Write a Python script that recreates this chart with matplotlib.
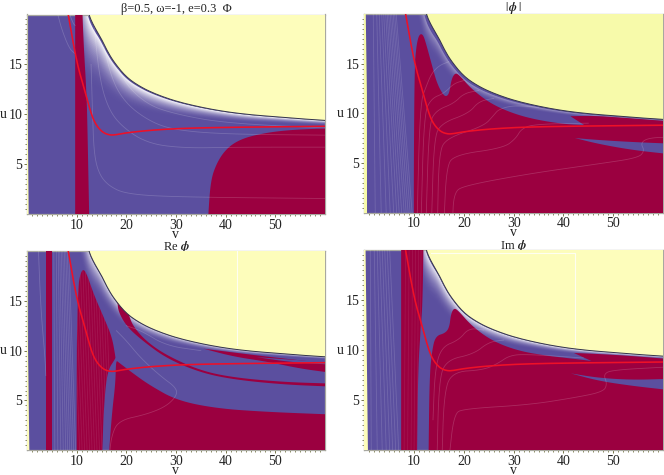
import matplotlib
matplotlib.use('Agg')
import matplotlib.pyplot as plt
import numpy as np

PURPLE = '#5b4f9f'
CRIMSON = '#9b0040'
YELLOW = '#fdfdbb'
YELLOW2 = '#f7faaa'

titles = ['β=0.5, ω=-1, e=0.3  Φ', r'$|\,\boldsymbol{\phi}\,|$', r'Re $\boldsymbol{\phi}$', r'Im $\boldsymbol{\phi}$']

# edge of the yellow area and the red curve, same in all panels
edge_v = [11.3, 12.4, 13.5, 14.75, 16, 17.4, 20, 23, 26, 30, 35, 40, 45, 50, 55, 61]
edge_u = [22.5, 20, 18.8, 17.8, 16.5, 15.3, 13.7, 12.7, 12.0, 11.3, 10.7, 10.25, 9.95, 9.75, 9.55, 9.35]
band_width = [7, 6.5, 6, 5.2, 4.5, 3.8, 3.0, 2.4, 2.0, 1.6, 1.25, 1.0, 0.85, 0.7, 0.6, 0.5]
red_v = [8.3, 9, 9.7, 10.5, 11.4, 12.7, 13.5, 14.4, 15.5, 16.8, 18, 20.1, 24.8, 31.5, 41.6, 61]
red_u = [20, 18, 16.1, 14.3, 12.8, 10.4, 9.3, 8.6, 8.1, 7.9, 7.95, 8.15, 8.4, 8.6, 8.7, 8.8]

# panel 1
p1_strip_v = [9.7, 9.7, 11.1, 11.4, 12.0, 12.2, 12.55, 9.7]
p1_strip_u = [-1, 21, 21, 17, 12, 8, -1, -1]
p1_corner_v = [36.5, 36.5, 37, 38.2, 39.9, 42.2, 45.6, 51.6, 61, 61, 36.5]
p1_corner_u = [-1, 0, 3.4, 5.1, 6.4, 7.3, 7.9, 8.4, 8.6, -1, -1]
p1_line_a_v = [12.9, 13.2, 13.5, 14.5, 16.5, 20, 30, 61]
p1_line_a_u = [15, 10, 6, 4, 2.8, 2.0, 1.7, 1.55]
p1_line_b_v = [13.5, 14.5, 16, 18.5, 24, 31.5, 42, 61]
p1_line_b_u = [19, 14, 11, 9, 7.1, 6.6, 6.7, 6.7]
p1_line_c_v = [15, 17, 20, 25, 30, 40, 61]
p1_line_c_u = [18, 13.5, 11, 9.2, 8.4, 8.0, 7.9]
p1_line_d_v = [16, 19, 24, 30, 40, 61]
p1_line_d_u = [18, 13.5, 11, 10, 9.1, 8.6]
p1_line_e_v = [6.2, 7, 8.5, 9.6]
p1_line_e_u = [20, 18.5, 16.6, 16.1]
p1_line_f_v = [8.6, 9.3, 9.7]
p1_line_f_u = [20, 19.1, 18.9]

# panel 2
p2_main_v = [9.95, 9.95, 10.1, 10.4, 10.8, 11.25, 11.8, 12.3, 13.5, 14.6, 15.9, 16.6, 17.1, 17.5, 18.2, 19, 21.6, 25.6,
             30.3, 35, 40.4, 44.2, 44.2, 41.4, 41.4, 46, 52, 61, 61, 9.95]
p2_main_u = [-1, 5, 14.5, 16.5, 17.6, 18, 17.9, 17.2, 15, 13, 11.8, 11.7, 12.1, 13.4, 14.05, 13.9, 12.4, 10.9,
             9.9, 9.3, 8.9, 8.8, 8.8, 9.7, 9.7, 9.75, 9.55, 9.2, -1, -1]
p2_isle_v = [42.3, 42.3, 47.1, 53.8, 61, 61, 53.8, 47.1, 42.3, 42.3]
p2_isle_u = [7.5, 7.5, 7.3, 7.1, 6.95, 5.9, 6.3, 6.9, 7.5, 7.5]
p2_line_a_v = [17.7, 18, 20, 33, 47, 55, 56.3, 55.5, 57, 61]
p2_line_a_u = [-1, 2, 2.7, 3.9, 4.9, 5.5, 6.2, 7, 7.5, 7.6]
p2_line_b_v = [16, 16.5, 18, 28, 30.5, 31.5, 34, 45]
p2_line_b_u = [-1, 4.5, 5.8, 6.5, 7.5, 8.4, 8.9, 9.0]
p2_line_c_v = [14.7, 15, 16.5, 24, 26, 27, 30, 35]
p2_line_c_u = [-1, 6, 7.5, 8.7, 9.8, 10.4, 10.8, 10.6]
p2_line_d_v = [13.5, 14, 15.5, 21, 23, 26]
p2_line_d_u = [-1, 7.5, 9, 10, 11.2, 11.5]
p2_line_e_v = [12.4, 13, 14.5, 18, 20, 23]
p2_line_e_u = [-1, 9, 10.3, 11, 12, 12.3]
p2_line_f_v = [11.4, 12, 13.5, 16, 18, 20]
p2_line_f_u = [-1, 10, 11.5, 12, 13, 13.3]
p2_line_g_v = [10.6, 11.2, 12.5, 13.5, 15, 17]
p2_line_g_u = [-1, 11, 12.8, 14, 14.8, 15.2]

# panel 3
p3_strip_v = [3.8, 3.8, 5, 5, 3.8]
p3_strip_u = [-1, 21, 21, -1, -1]
p3_lobe_v = [10, 10, 10.2, 10.4, 11.1, 11.9, 13.4, 15.4, 17.1, 17.8, 17.8, 16.2, 15.5, 15.1, 15.1, 10]
p3_lobe_u = [-1, 10, 14.7, 17, 18.2, 17.9, 15.7, 13.4, 11.4, 9.4, 9.2, 8, 4.7, -1, -1, -1]
p3_low_v = [16.4, 17.1, 17.8, 17.9, 18.1, 18.1, 21.4, 24.8, 30.2, 38.2, 48.3, 61, 61, 16.4]
p3_low_u = [-1, 3.7, 6.7, 8.7, 8.96, 8.96, 7.7, 6.5, 5, 4.2, 3.85, 3.6, -1, -1]
p3_sliver_v = [18.2, 18.2, 20.1, 20.4, 21.4, 24.1, 28.2, 34.9, 41.6, 51.6, 61, 61, 51.6, 41.6, 34.9, 28.2, 23.5, 20.1, 18.4, 18.2]
p3_sliver_u = [14.9, 14.9, 14.7, 13.7, 12.4, 10.9, 9.5, 8, 7.3, 6.85, 6.7, 6.4, 6.6, 7.1, 7.8, 9.2, 10.9, 12.4, 13.9, 14.9]
p3_top_v = [35.5, 35.5, 40.2, 48.3, 61, 61, 55, 48.3, 41.6, 35.5, 35.5]
p3_top_u = [10.2, 10.2, 9.9, 9.4, 8.7, 7.8, 8.2, 8.9, 9.4, 10.2, 10.2]
p3_gap_v = [46.2, 46.2, 53, 61, 61, 53, 46.2, 46.2]
p3_gap_u = [9.35, 9.35, 9.1, 8.85, 8.6, 8.85, 9.35, 9.35]
p3_line_a_v = [16.5, 17, 18.5, 24, 28, 30.2, 30, 27, 23, 20, 18]
p3_line_a_u = [-1, 1.5, 3, 3.6, 4.4, 5.5, 6.3, 7.4, 9.2, 11, 12]
p3_line_b_v = [2.3, 2.8, 3.6, 3.8]
p3_line_b_u = [20, 14, 9.5, 7.5]
p3_line_c_v = [20, 23, 28, 35]
p3_line_c_u = [12.5, 12, 10.5, 10]
p3_white_v = [42.2, 42.2]
p3_white_u = [10.6, 20]

# panel 4
p4_strip_v = [7.4, 7.4, 11.9, 11.7, 11.3, 10.8, 10.6, 10.6, 7.4]
p4_strip_u = [-1, 21, 21, 14.6, 12, 7.9, 0, -1, -1]
p4_main_v = [12.9, 13.1, 13.6, 14.3, 16.3, 17.1, 17.4, 18, 18.8, 21.6, 25.7, 31, 37, 42.4, 45.6, 45.6, 42.1, 42.1, 47.1,
             53.8, 61, 61, 12.9]
p4_main_u = [-1, 7.3, 9.9, 11.4, 11.7, 12.3, 13.6, 14.2, 14, 12.4, 10.9, 9.9, 9.4, 9.1, 8.9, 8.9, 9.7, 9.7, 9.6,
             9.4, 9.1, -1, -1]
p4_isle_v = [41.5, 41.5, 47.1, 53.8, 61, 61, 53.8, 47.1, 41.5, 41.5]
p4_isle_u = [7.65, 7.65, 7.2, 7.0, 7.1, 6.0, 6.4, 6.9, 7.65, 7.65]
p4_line_a_v = [17, 18, 20, 33, 42, 48, 48.8, 48, 50, 61]
p4_line_a_u = [-1, 3.6, 4.1, 4.5, 5.2, 5.8, 6.6, 7.6, 8, 8.3]
p4_line_b_v = [15.6, 16, 17.5, 24, 27, 29, 32, 44]
p4_line_b_u = [-1, 5.5, 7.8, 8, 8.7, 9.4, 9.6, 9.2]
p4_line_c_v = [14.6, 15, 16.5, 22, 25, 28]
p4_line_c_u = [-1, 7, 9, 9.6, 10.8, 11]
p4_line_d_v = [13.8, 14.2, 15.5, 19, 21, 24]
p4_line_d_u = [3, 8, 10.3, 11, 12.2, 12]
p4_white_v = [13.4, 42.3, 42.3]
p4_white_u = [19.7, 19.7, 10.6]

# left side contour lines, v at bottom and top of the panel
p2_left_bottom = [2.2, 3.4, 4.4, 5.2, 5.9, 6.5, 7.0, 7.5, 8.0, 8.4, 8.8, 9.2, 9.6]
p2_left_top = [1.8, 2.5, 3.0, 3.5, 3.9, 4.3, 4.6, 4.9, 5.2, 5.5, 5.8, 6.1, 6.4]
p3_right_bottom = [5.6, 6.2, 6.8, 7.3, 7.8, 8.2, 8.6, 9.0, 9.4, 9.8]
p3_right_top = [5.4, 5.9, 6.3, 6.6, 6.9, 7.2, 7.5, 7.8, 8.1, 8.4]
p4_left_bottom = [1.4, 2.6, 3.6, 4.4, 5.1, 5.7, 6.3, 6.9]
p4_left_top = [1.2, 2.0, 2.6, 3.1, 3.6, 4.1, 4.6, 5.1]
lobe_lines_3 = [10.6, 11.1, 11.6, 12.1, 12.6, 13.1, 13.6, 14.1, 14.6, 15.1, 15.6, 16.1, 16.6, 17.1]
strip_lines_4 = [8.0, 8.7, 9.4, 10.0, 10.6, 11.1, 11.6]


def smooth(xs, ys, n=3):
    pts = np.column_stack([xs, ys]).astype(float)
    for _ in range(n):
        q = 0.75 * pts[:-1] + 0.25 * pts[1:]
        r = 0.25 * pts[:-1] + 0.75 * pts[1:]
        mid = np.empty((2 * len(q), 2))
        mid[0::2] = q
        mid[1::2] = r
        pts = np.vstack([pts[:1], mid, pts[-1:]])
    return pts[:, 0], pts[:, 1]


def region(ax, xs, ys, color, zorder=3):
    # points outside the frame stay sharp so the cut at the frame is clean
    px, py = [], []
    for a, b in zip(xs, ys):
        px.append(a)
        py.append(b)
        if a > 60 or b < 0 or b > 20:
            px.append(a)
            py.append(b)
    x, y = smooth(px, py)
    return ax.fill(x, y, color=color, lw=0, zorder=zorder)[0]


def contour(ax, xs, ys, alpha=0.17, zorder=4):
    x, y = smooth(xs, ys)
    return ax.plot(x, y, color='white', lw=0.6, alpha=alpha, zorder=zorder)[0]


def band(ax, width_scale, white=1.0, start=0.06):
    ex, ey = smooth(edge_v, edge_u)
    wx, wy = smooth(edge_v, band_width)
    base = np.array(matplotlib.colors.to_rgb(PURPLE))
    ts = np.linspace(1, 0, 30)
    for t in ts:
        f = (1 - t) ** 2.4 * white
        col = base + (np.ones(3) - base) * f
        s = start + t * width_scale
        lx = ex - s * 1.1 * wy / wy[0]
        ly = ey - s * wy
        ax.fill(np.r_[ex, lx[::-1]], np.r_[ey, ly[::-1]], color=col, lw=0, zorder=2.1)
    # dark rim next to the yellow
    lx = ex - start * 1.1 * wy / wy[0]
    ly = ey - start * wy
    ax.fill(np.r_[ex, lx[::-1]], np.r_[ey, ly[::-1]], color=PURPLE, lw=0, zorder=2.2)


def draw_common(ax, yellow, left_strip, taper=0.3):
    ax.set_facecolor(PURPLE)
    ex, ey = smooth(edge_v, edge_u)
    ax.fill(np.r_[ex, 61, ex[0]], np.r_[ey, 22.5, 22.5], color=yellow, lw=0, zorder=5)
    ax.plot(ex, ey, color='#33334a', lw=0.7, zorder=6)
    ax.fill([-1, left_strip, left_strip * taper, left_strip * taper * 0.5, -1], [-1, -1, 12, 21, 21],
            color=yellow, lw=0, zorder=5)
    rx, ry = smooth(red_v, red_u)
    ax.plot(rx, ry, color='#ee1028', lw=1.15, zorder=7)


def style(ax, title, title_pad, title_size=9):
    ax.set_xlim(0, 60)
    ax.set_ylim(0, 20)
    ax.set_xticks([10, 20, 30, 40, 50])
    ax.set_yticks([5, 10, 15])
    ax.set_xticks(np.arange(1, 60), minor=True)
    ax.set_yticks(np.arange(0.5, 20, 0.5), minor=True)
    ax.tick_params(which='major', length=2.5, width=0.7, color='#77774a', labelsize=10, pad=1, labelcolor='#222222')
    ax.tick_params(which='minor', length=1.5, width=0.6, color='#77774a')
    for s in ax.spines.values():
        s.set_color('#a8a8a0')
        s.set_linewidth(0.9)
    ax.set_title(title, fontsize=title_size, y=1.0, pad=title_pad, color='#222222')
    ax.set_xlabel('v', fontsize=10, color='#222222', va='center')
    ax.xaxis.set_label_coords(0.5, -0.102)
    ax.set_ylabel('u', fontsize=10, rotation=0, color='#222222', va='center')
    ax.yaxis.set_label_coords(-0.079, 0.5)


def make_axes(fig, left, top, right, bottom):
    return fig.add_axes([left / 664, 1 - bottom / 475, (right - left) / 664, (bottom - top) / 475])


def fan(ax, bottoms, tops, alpha=0.14, clip=None):
    for b, t in zip(bottoms, tops):
        ln = ax.plot([b, t], [0, 20], color='white', lw=0.6, alpha=alpha, zorder=4)[0]
        if clip is not None:
            ln.set_clip_path(clip)


plt.rcParams['font.family'] = ['Liberation Serif', 'DejaVu Serif']
plt.rcParams['mathtext.fontset'] = 'stix'

fig = plt.figure(figsize=(6.64, 4.75), dpi=100)

# top left
ax = make_axes(fig, 27, 14.5, 325, 214)
band(ax, 1.0)
region(ax, p1_strip_v, p1_strip_u, CRIMSON)
region(ax, p1_corner_v, p1_corner_u, CRIMSON)
for xs, ys in [(p1_line_a_v, p1_line_a_u), (p1_line_b_v, p1_line_b_u), (p1_line_c_v, p1_line_c_u),
               (p1_line_d_v, p1_line_d_u), (p1_line_e_v, p1_line_e_u), (p1_line_f_v, p1_line_f_u)]:
    contour(ax, xs, ys)
draw_common(ax, YELLOW, 0.35)
style(ax, titles[0], 2)

# top right
ax = make_axes(fig, 364.3, 14, 663, 212.5)
band(ax, 0.4, white=0.4, start=0.1)
fan(ax, p2_left_bottom, p2_left_top)
patch = region(ax, p2_main_v, p2_main_u, CRIMSON)
region(ax, p2_isle_v, p2_isle_u, PURPLE)
for xs, ys in [(p2_line_a_v, p2_line_a_u), (p2_line_b_v, p2_line_b_u), (p2_line_c_v, p2_line_c_u),
               (p2_line_d_v, p2_line_d_u), (p2_line_e_v, p2_line_e_u), (p2_line_f_v, p2_line_f_u),
               (p2_line_g_v, p2_line_g_u)]:
    contour(ax, xs, ys)
draw_common(ax, YELLOW2, 0.55, taper=0.95)
style(ax, titles[1], 2, title_size=8.5)

# bottom left
ax = make_axes(fig, 27, 251, 325, 450.3)
band(ax, 0.5, white=0.75, start=0.02)
fan(ax, p3_right_bottom, p3_right_top)
region(ax, p3_strip_v, p3_strip_u, CRIMSON)
patch = region(ax, p3_lobe_v, p3_lobe_u, CRIMSON)
fan(ax, lobe_lines_3, [v - 1.5 for v in lobe_lines_3], alpha=0.09, clip=patch)
region(ax, p3_low_v, p3_low_u, CRIMSON)
region(ax, p3_sliver_v, p3_sliver_u, CRIMSON)
region(ax, p3_top_v, p3_top_u, CRIMSON)
region(ax, p3_gap_v, p3_gap_u, PURPLE)
for xs, ys in [(p3_line_a_v, p3_line_a_u), (p3_line_b_v, p3_line_b_u), (p3_line_c_v, p3_line_c_u)]:
    contour(ax, xs, ys)
draw_common(ax, YELLOW, 0.5)
ax.plot(p3_white_v, p3_white_u, color='white', lw=0.8, alpha=0.8, zorder=6)
style(ax, titles[2], 0.7)

# bottom right
ax = make_axes(fig, 364.3, 250.3, 663, 449.7)
band(ax, 0.6, white=0.9, start=0.03)
fan(ax, p4_left_bottom, p4_left_top)
patch = region(ax, p4_strip_v, p4_strip_u, CRIMSON)
fan(ax, strip_lines_4, [v + 0.3 for v in strip_lines_4], alpha=0.08, clip=patch)
region(ax, p4_main_v, p4_main_u, CRIMSON)
region(ax, p4_isle_v, p4_isle_u, PURPLE)
for xs, ys in [(p4_line_a_v, p4_line_a_u), (p4_line_b_v, p4_line_b_u), (p4_line_c_v, p4_line_c_u),
               (p4_line_d_v, p4_line_d_u)]:
    contour(ax, xs, ys)
draw_common(ax, YELLOW, 0.75, taper=0.6)
ax.plot(p4_white_v, p4_white_u, color='white', lw=0.8, alpha=0.8, zorder=6)
style(ax, titles[3], 0.7)

fig.savefig('out.png', dpi=100)
